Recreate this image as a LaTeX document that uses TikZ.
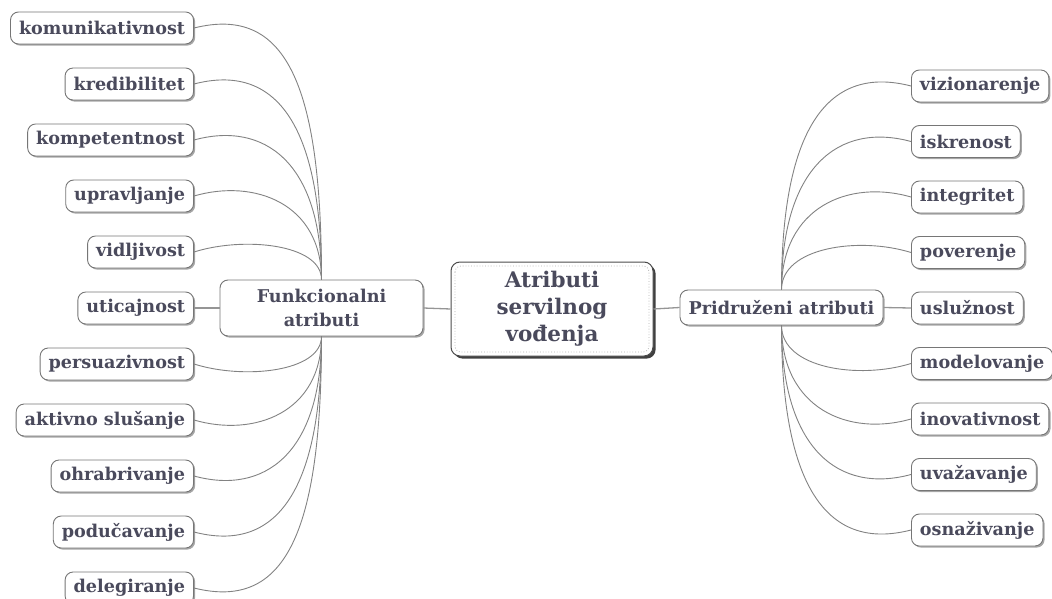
\documentclass[tikz,border=0pt]{standalone}
\usepackage{fontspec}
\setmainfont{DejaVu Serif}
\usetikzlibrary{shadows,calc}

\definecolor{txt}{RGB}{74,74,92}
\definecolor{edge}{RGB}{118,118,118}
\definecolor{wire}{RGB}{130,130,130}

\tikzset{
  leaf/.style={draw=edge, line width=0.9pt, fill=white, rounded corners=8pt,
    inner xsep=8.5pt, inner ysep=0pt, minimum height=32pt, text=txt,
    font=\fontsize{17.6}{20}\selectfont\bfseries,
    drop shadow={shadow xshift=1.6pt, shadow yshift=-1.6pt, opacity=0.35, fill=black}},
  hub/.style={leaf, minimum width=203pt, align=center},
  core/.style={draw=black!70, line width=1pt, fill=white, rounded corners=9pt,
    minimum width=202pt, minimum height=94pt, align=center, text=txt,
    font=\fontsize{21.5}{27}\selectfont\bfseries,
    drop shadow={shadow xshift=2.6pt, shadow yshift=-2.6pt, opacity=0.75, fill=black}},
  wire/.style={draw=wire, line width=0.9pt},
  trunk/.style={draw=wire!85, line width=1.3pt},
}

\begin{document}
\begin{tikzpicture}[x=1pt, y=-1pt]
\useasboundingbox (0,0) rectangle (1052,599);
\clip (0,0) rectangle (1052,599);

% central topic and the two main branches
\node[core] (C) at (552,309) {Atributi\\servilnog\\vođenja};
\draw[dotted, line width=0.8pt, black!30, rounded corners=6pt]
  ($(C.north west)+(4.5,4.5)$) rectangle ($(C.south east)+(-4.5,-4.5)$);
\node[hub, minimum height=56pt, font=\fontsize{17.6}{24}\selectfont\bfseries] (F) at (321.5,308) {Funkcionalni\\atributi};
\node[hub, minimum height=35pt] (P) at (781.5,307.5) {Pridruženi atributi};

\draw[trunk] (F.east) -- (C.west);
\draw[trunk] (C.east) -- (P.west);

% functional attributes (left)
\foreach \i/\t in {0/komunikativnost, 1/kredibilitet, 2/kompetentnost, 3/upravljanje,
  4/vidljivost, 5/uticajnost, 6/persuazivnost, 7/aktivno slušanje, 8/ohrabrivanje,
  9/podučavanje, 10/delegiranje}
  \node[leaf, anchor=east] (L\i) at (194,{308+56*(\i-5)}) {\t};

\foreach \i in {0,...,4}{
  \pgfmathsetmacro\dy{280-(308+56*(\i-5))}
  \draw[wire] (L\i.east) .. controls +({45+0.18*\dy},{-(15+0.03*\dy)})
    and +(0,{-(0.73*\dy+15)}) .. (F.north);
}
\draw[trunk] (L5.east) -- (F.west);
\foreach \i in {6,...,10}{
  \pgfmathsetmacro\dy{(308+56*(\i-5))-336}
  \draw[wire] (L\i.east) .. controls +({45+0.18*\dy},{15+0.03*\dy})
    and +(0,{0.73*\dy+15}) .. (F.south);
}

% associated attributes (right)
\foreach \i/\t in {0/vizionarenje, 1/iskrenost, 2/integritet, 3/poverenje, 4/uslužnost,
  5/modelovanje, 6/inovativnost, 7/uvažavanje, 8/osnaživanje}
  \node[leaf, anchor=west] (R\i) at (911,{308+55.5*(\i-4)}) {\t};

\foreach \i in {0,...,3}{
  \pgfmathsetmacro\dy{290-(308+55.5*(\i-4))}
  \draw[wire] (R\i.west) .. controls +({-(45+0.18*\dy)},{-(15+0.03*\dy)})
    and +(0,{-(0.73*\dy+15)}) .. (P.north);
}
\draw[trunk] (P.east) -- (R4.west);
\foreach \i in {5,...,8}{
  \pgfmathsetmacro\dy{(308+55.5*(\i-4))-325}
  \draw[wire] (R\i.west) .. controls +({-(45+0.18*\dy)},{15+0.03*\dy})
    and +(0,{0.73*\dy+15}) .. (P.south);
}
\end{tikzpicture}
\end{document}
